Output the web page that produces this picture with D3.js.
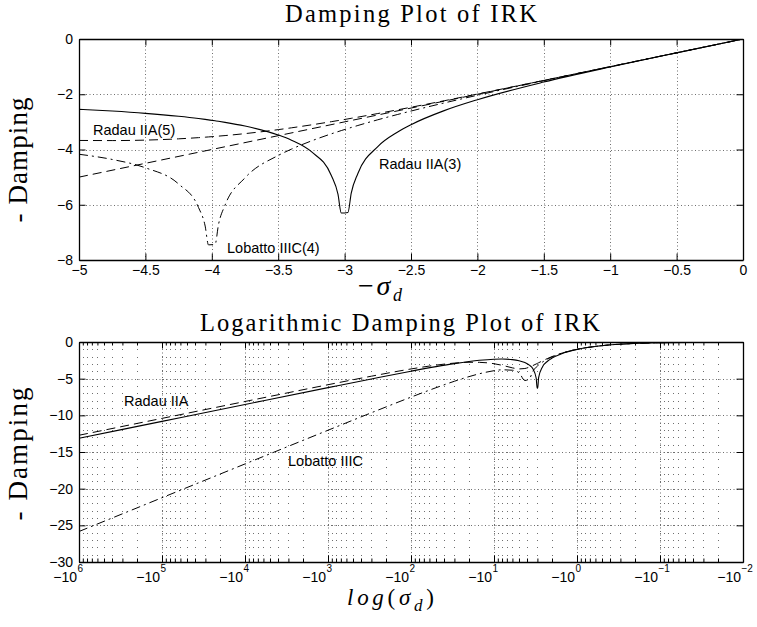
<!DOCTYPE html>
<html lang="en">
<head>
<meta charset="utf-8">
<script src="https://d3js.org/d3.v7.min.js"></script>
<title>Damping Plot of IRK</title>
<style>
    body { margin: 0; background: #ffffff; }
    svg { display: block; }
    .title, .axlab { font-family: "Liberation Serif", "Times New Roman", serif; fill: #000; }
    .curve-label { font-family: "Liberation Sans", Arial, sans-serif; font-size: 14.5px; fill: #000; }
</style>
</head>
<body>
<svg width="757" height="627"></svg>
<script>
// ---------- data ----------
// upper plot: x = -sigma_d, y = -damping
const xTop      = [-5, -4.75, -4.5, -4.25, -4.1, -4.05, -4.025, -3.975, -3.95, -3.9,
                   -3.75, -3.5, -3.4, -3.25, -3.1, -3.05, -3.025, -2.975, -2.95, -2.9,
                   -2.75, -2.6, -2.5, -2.25, -2, -1.5, -1, -0.5, 0]
const radau3Top = [-2.546, -2.609, -2.691, -2.799, -2.880, -2.911, -2.928, -2.962, -2.980, -3.018,
                   -3.152, -3.473, -3.662, -4.080, -4.942, -5.617, -6.301, -6.282, -5.580, -4.868,
                   -3.894, -3.366, -3.102, -2.593, -2.197, -1.558, -1.012, -0.501, 0]
const radau5Top = [-3.672, -3.677, -3.660, -3.614, -3.571, -3.554, -3.545, -3.527, -3.516, -3.496,
                   -3.425, -3.281, -3.215, -3.108, -2.993, -2.953, -2.933, -2.892, -2.871, -2.829,
                   -2.698, -2.563, -2.471, -2.235, -1.992, -1.499, -1.000, -0.500, 0]
const lobattoTop = [-4.172, -4.360, -4.662, -5.249, -6.100, -6.771, -7.453, -7.431, -6.727, -6.011,
                    -5.027, -4.216, -3.986, -3.690, -3.433, -3.354, -3.315, -3.240, -3.203, -3.131,
                    -2.924, -2.731, -2.608, -2.315, -2.037, -1.510, -1.001, -0.500, 0]
const exactX = [-5, 0]
const exactY = [-5, 0]

// lower plot: x = sigma_d (log axis, shown as -10^k), y = -damping
const sigmaLog  = [1e6, 1e5, 1e4, 1e3, 300, 100, 50, 30, 20, 15,
                   10, 8, 6, 5, 4.25, 3.75, 3.4, 3.1, 3.025, 2.975,
                   2.9, 2.6, 2.25, 2, 1.5, 1, 0.5, 0.2, 0.1, 0.01]
const radau3Log = [-13.122, -10.820, -8.518, -6.222, -5.034, -3.982, -3.360, -2.944, -2.660, -2.495,
                   -2.345, -2.322, -2.398, -2.546, -2.799, -3.152, -3.662, -4.942, -6.301, -6.282,
                   -4.868, -3.366, -2.593, -2.197, -1.558, -1.012, -0.501, -0.200, -0.100, -0.010]
const radau5Log = [-12.717, -10.415, -8.113, -5.826, -4.662, -3.677, -3.156, -2.877, -2.765, -2.773,
                   -2.962, -3.175, -3.526, -3.672, -3.614, -3.425, -3.215, -2.993, -2.933, -2.892,
                   -2.829, -2.563, -2.235, -1.992, -1.499, -1.000, -0.500, -0.200, -0.100, -0.010]
const lobattoLog = [-25.839, -21.234, -16.630, -12.034, -9.649, -7.519, -6.236, -5.353, -4.722, -4.331,
                    -3.914, -3.792, -3.850, -4.172, -5.249, -5.027, -3.986, -3.433, -3.315, -3.240,
                    -3.131, -2.731, -2.315, -2.037, -1.510, -1.001, -0.500, -0.200, -0.100, -0.010]

// ticks
const xTicksTop  = [-5, -4.5, -4, -3.5, -3, -2.5, -2, -1.5, -1, -0.5, 0]
const xLabelsTop = ["\u22125", "\u22124.5", "\u22124", "\u22123.5", "\u22123", "\u22122.5", "\u22122", "\u22121.5", "\u22121", "\u22120.5", "0"]
const yTicksTop  = [0, -2, -4, -6, -8]
const yLabelsTop = ["0", "\u22122", "\u22124", "\u22126", "\u22128"]
const xTicksLog  = [1e6, 1e5, 1e4, 1e3, 1e2, 1e1, 1e0, 1e-1, 1e-2]
const xExpLog    = ["6", "5", "4", "3", "2", "1", "0", "\u22121", "\u22122"]
const yTicksLog  = [0, -5, -10, -15, -20, -25, -30]
const yLabelsLog = ["0", "\u22125", "\u221210", "\u221215", "\u221220", "\u221225", "\u221230"]

// ---------- layout ----------
const svg = d3.select("svg")
const boxA = {left: 79, right: 743, top: 39, bottom: 260}
const boxB = {left: 79, right: 743, top: 342, bottom: 562}

const xA = d3.scaleLinear().domain([-5, 0]).range([boxA.left, boxA.right])
const yA = d3.scaleLinear().domain([-8, 0]).range([boxA.bottom, boxA.top])
const xB = d3.scaleLog().domain([1e6, 1e-2]).range([boxB.left, boxB.right])
const yB = d3.scaleLinear().domain([-30, 0]).range([boxB.bottom, boxB.top])

const gridColor = "#6f6f6f"
const styles = {
    solid:   {dash: null,         w: 1.1},
    dashed:  {dash: "9,5",        w: 1.0},
    dashdot: {dash: "9,4,2,4",    w: 1.0}
}

// clip paths
const defs = svg.append("defs")
defs.append("clipPath").attr("id", "clipA").append("rect")
    .attr("x", boxA.left).attr("y", boxA.top).attr("width", boxA.right - boxA.left).attr("height", boxA.bottom - boxA.top)
defs.append("clipPath").attr("id", "clipB").append("rect")
    .attr("x", boxB.left).attr("y", boxB.top).attr("width", boxB.right - boxB.left).attr("height", boxB.bottom - boxB.top)

// ---------- grids ----------
function dottedV(g, xs, x, box) {
    g.selectAll(null).data(xs).enter().append("line")
        .attr("x1", d => Math.round(x(d)) + 0.5).attr("x2", d => Math.round(x(d)) + 0.5)
        .attr("y1", box.top).attr("y2", box.bottom)
        .attr("stroke", gridColor).attr("stroke-width", 1).attr("stroke-dasharray", "1,2.5")
}
function dottedH(g, ys, y, box) {
    g.selectAll(null).data(ys).enter().append("line")
        .attr("y1", d => Math.round(y(d)) + 0.5).attr("y2", d => Math.round(y(d)) + 0.5)
        .attr("x1", box.left).attr("x2", box.right)
        .attr("stroke", gridColor).attr("stroke-width", 1).attr("stroke-dasharray", "1,2.5")
}

const gridA = svg.append("g")
dottedV(gridA, xTicksTop.slice(1, -1), xA, boxA)
dottedH(gridA, yTicksTop.slice(1, -1), yA, boxA)

// minor grid of the log plot only shows as dots where the dotted lines cross
const minorLog = []
for (let k = -2; k < 6; k++) for (let m = 2; m <= 9; m++) minorLog.push(m * Math.pow(10, k))
const minorY = d3.range(0, -31, -1)
const gridB = svg.append("g")
const crossings = []
minorLog.concat(xTicksLog).forEach(vx => minorY.forEach(vy => crossings.push([vx, vy])))
gridB.selectAll("rect").data(crossings).enter().append("rect")
    .attr("x", d => Math.round(xB(d[0])))
    .attr("y", d => Math.round(yB(d[1])))
    .attr("width", 1).attr("height", 1)
    .attr("fill", gridColor)
dottedV(gridB, xTicksLog.slice(1, -1), xB, boxB)
dottedH(gridB, yTicksLog.slice(1, -1), yB, boxB)

// ---------- curves ----------
function curve(clip, xs, ys, x, y, st) {
    const pts = xs.map((v, i) => [x(v), y(ys[i])])
    svg.append("path")
        .attr("clip-path", "url(#" + clip + ")")
        .attr("d", d3.line().curve(d3.curveMonotoneX)(pts))
        .attr("fill", "none")
        .attr("stroke", "#000")
        .attr("stroke-width", st.w)
        .attr("stroke-dasharray", st.dash)
}

curve("clipA", exactX, exactY, xA, yA, styles.dashed)
curve("clipA", xTop, radau5Top, xA, yA, styles.dashed)
curve("clipA", xTop, lobattoTop, xA, yA, styles.dashdot)
curve("clipA", xTop, radau3Top, xA, yA, styles.solid)

curve("clipB", sigmaLog, radau5Log, xB, yB, styles.dashed)
curve("clipB", sigmaLog, lobattoLog, xB, yB, styles.dashdot)
curve("clipB", sigmaLog, radau3Log, xB, yB, styles.solid)

// ---------- axes (box with inward ticks on all four sides) ----------
function styleAxis(g) {
    g.attr("font-family", "'Liberation Sans', Arial, sans-serif").attr("font-size", 14)
    g.select(".domain").attr("stroke", "#000").attr("stroke-width", 1.3)
    g.selectAll(".tick line").attr("stroke", "#000").attr("stroke-width", 1)
    g.selectAll(".tick text").attr("fill", "#000")
}
const none = () => ""

function frame(box, x, y, xVals, xFmt, yVals, yFmt, xPad) {
    const bottomAxis = svg.append("g").attr("transform", "translate(0," + box.bottom + ")")
        .call(d3.axisBottom(x).tickValues(xVals).tickFormat(xFmt).tickSize(-6.5).tickSizeOuter(0).tickPadding(xPad))
        .call(styleAxis)
    svg.append("g").attr("transform", "translate(0," + box.top + ")")
        .call(d3.axisTop(x).tickValues(xVals).tickFormat(none).tickSize(-6.5).tickSizeOuter(0))
        .call(styleAxis)
    svg.append("g").attr("transform", "translate(" + box.left + ",0)")
        .call(d3.axisLeft(y).tickValues(yVals).tickFormat(yFmt).tickSize(-6.5).tickSizeOuter(0).tickPadding(6))
        .call(styleAxis)
    svg.append("g").attr("transform", "translate(" + box.right + ",0)")
        .call(d3.axisRight(y).tickValues(yVals).tickFormat(none).tickSize(-6.5).tickSizeOuter(0))
        .call(styleAxis)
    return bottomAxis
}

frame(boxA, xA, yA, xTicksTop, (d, i) => xLabelsTop[i], yTicksTop, (d, i) => yLabelsTop[i], 5)
const logAxis = frame(boxB, xB, yB, xTicksLog, () => "\u221210", yTicksLog, (d, i) => yLabelsLog[i], 10)

// minor ticks on the log axis
svg.append("g").attr("transform", "translate(0," + boxB.bottom + ")")
    .call(d3.axisBottom(xB).tickValues(minorLog).tickFormat(none).tickSize(-3.5).tickSizeOuter(0))
    .call(g => g.select(".domain").remove())
svg.append("g").attr("transform", "translate(0," + boxB.top + ")")
    .call(d3.axisTop(xB).tickValues(minorLog).tickFormat(none).tickSize(-3.5).tickSizeOuter(0))
    .call(g => g.select(".domain").remove())

// -10^k labels: shift base left, add exponent
const logTicks = logAxis.selectAll(".tick")
logTicks.select("text").attr("text-anchor", "end").attr("x", -2.5)
logTicks.append("text")
    .attr("x", -2).attr("y", 10).attr("text-anchor", "start")
    .attr("font-size", 10).attr("fill", "#000")
    .text((d, i) => xExpLog[i])

// ---------- text ----------
svg.append("text").attr("class", "title").attr("x", 411).attr("y", 22)
    .attr("text-anchor", "middle").attr("font-size", 24.5)
    .attr("textLength", 252).text("Damping Plot of IRK")
svg.append("text").attr("class", "title").attr("x", 400).attr("y", 331)
    .attr("text-anchor", "middle").attr("font-size", 24.5)
    .attr("textLength", 400).text("Logarithmic Damping Plot of IRK")

svg.append("text").attr("class", "axlab").attr("font-size", 27).attr("text-anchor", "middle")
    .attr("textLength", 125)
    .attr("transform", "translate(27,160) rotate(-90)").text("- Damping")
svg.append("text").attr("class", "axlab").attr("font-size", 27).attr("text-anchor", "middle")
    .attr("textLength", 133)
    .attr("transform", "translate(27,454) rotate(-90)").text("- Damping")

const xlabA = svg.append("text").attr("class", "axlab").attr("x", 358).attr("y", 295)
    .attr("font-size", 28).attr("textLength", 44)
xlabA.append("tspan").text("\u2212")
xlabA.append("tspan").attr("font-style", "italic").text("\u03c3")
xlabA.append("tspan").attr("font-style", "italic").attr("font-size", 18).attr("dy", 6).text("d")

const xlabB = svg.append("text").attr("class", "axlab").attr("x", 347).attr("y", 605)
    .attr("font-size", 23).attr("textLength", 87)
xlabB.append("tspan").attr("font-style", "italic").text("log")
xlabB.append("tspan").text("(")
xlabB.append("tspan").attr("font-style", "italic").text("\u03c3")
xlabB.append("tspan").attr("font-style", "italic").attr("font-size", 17).attr("dy", 6).text("d")
xlabB.append("tspan").attr("dy", -6).text(")")

// curve labels
const curveLabels = [
    {t: "Radau IIA(5)",    x: 93,  y: 135},
    {t: "Radau IIA(3)",    x: 379, y: 169},
    {t: "Lobatto IIIC(4)", x: 227, y: 253},
    {t: "Radau IIA",       x: 124, y: 406},
    {t: "Lobatto IIIC",    x: 288, y: 466}
]
svg.selectAll(".curve-label").data(curveLabels).enter().append("text")
    .attr("class", "curve-label")
    .attr("x", d => d.x).attr("y", d => d.y)
    .text(d => d.t)
</script>
</body>
</html>
